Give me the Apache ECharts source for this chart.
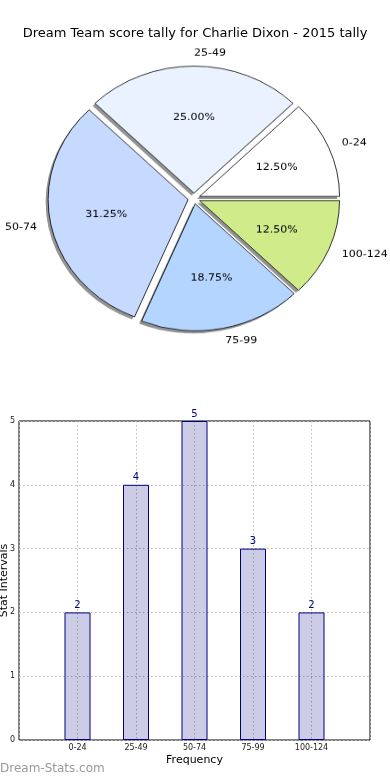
<!DOCTYPE html>
<html>
<head>
<meta charset="utf-8">
<script src="https://cdn.jsdelivr.net/npm/echarts@6/dist/echarts.min.js"></script>
<style>
html,body{margin:0;padding:0;background:#fff;}
#wrap{position:relative;width:390px;height:780px;overflow:hidden;}
#bar{position:absolute;left:0;top:0;width:390px;height:780px;}
#pie{position:absolute;left:0;top:0;width:390px;height:400px;transform:scaleY(0.907);transform-origin:194px 198.5px;}
</style>
</head>
<body>
<div id="wrap"><div id="bar"></div><div id="pie"></div></div>
<script>
const titleText = 'Dream Team score tally for Charlie Dixon - 2015 tally';
const categories = ['0-24', '25-49', '50-74', '75-99', '100-124'];
const counts = [2, 4, 5, 3, 2];
const pieColors = ['#ffffff', '#eaf2ff', '#c6d9ff', '#b3d5ff', '#cfeb8a'];
const yAxisName = 'Stat Intervals';
const xAxisName = 'Frequency';
const watermark = 'Dream-Stats.com';

const total = counts.reduce((a, b) => a + b, 0);
const FONT = 'DejaVu Sans';
const CX = 194, CY = 198.5;

const pieChart = echarts.init(document.getElementById('pie'));
const baseData = () => categories.map((c, i) => ({ name: c, value: counts[i], selected: true }));
const common = {
  type: 'pie', startAngle: 0, clockwise: false,
  selectedMode: 'multiple', selectedOffset: 6,
  avoidLabelOverlap: false,
  emphasis: { disabled: true }
};
pieChart.setOption({
  animation: false,
  textStyle: { fontFamily: FONT },
  series: [
    Object.assign({}, common, {
      center: [CX - 2.5, CY + 2.8], radius: [0, 140], silent: true,
      data: baseData(),
      itemStyle: { color: 'rgba(0,0,0,0.42)', borderWidth: 0 },
      select: { itemStyle: { color: 'rgba(0,0,0,0.42)', borderWidth: 0 } },
      label: { show: false }, labelLine: { show: false }
    }),
    Object.assign({}, common, {
      center: [CX, CY], radius: [0, 140],
      data: categories.map((c, i) => ({ name: c, value: counts[i], selected: true, itemStyle: { color: pieColors[i] } })),
      itemStyle: { borderColor: '#000', borderWidth: 0.8 },
      select: { itemStyle: { borderColor: '#000', borderWidth: 0.8 } },
      label: { position: 'outside', formatter: '{b}', fontSize: 11, color: '#000', fontFamily: FONT, distanceToLabelLine: 0 },
      labelLine: { show: false, length: 14, length2: 0 }
    }),
    Object.assign({}, common, {
      center: [CX, CY], radius: [0, 161], silent: true,
      data: baseData(),
      itemStyle: { color: 'rgba(0,0,0,0)', borderWidth: 0 },
      select: { itemStyle: { borderWidth: 0, color: 'rgba(0,0,0,0)' } },
      label: {
        position: 'inside', fontSize: 11, color: '#000', fontFamily: FONT,
        formatter: p => (p.value / total * 100).toFixed(2) + '%'
      },
      labelLine: { show: false }
    })
  ]
});

const barChart = echarts.init(document.getElementById('bar'));
const dotted = { color: '#b8b8b8', type: [1.5, 2.5], width: 1 };
barChart.setOption({
  animation: false,
  textStyle: { fontFamily: FONT },
  title: {
    text: titleText, left: 'center', top: 22,
    textStyle: { fontSize: 13, fontWeight: 'normal', color: '#000', fontFamily: FONT }
  },
  grid: { left: 19, right: 20, top: 421, bottom: 40, show: true, borderColor: '#000', borderWidth: 1, containLabel: false, outerBoundsMode: 'none' },
  xAxis: {
    type: 'value', min: -1, max: 5, interval: 1,
    axisLine: { show: false }, axisTick: { show: false },
    splitLine: { show: true, lineStyle: dotted },
    axisLabel: { formatter: v => categories[v] || '', fontSize: 8, color: '#222', margin: 4, showMinLabel: true, showMaxLabel: true },
    name: xAxisName, nameLocation: 'middle', nameGap: 15, nameMoveOverlap: false,
    nameTextStyle: { fontSize: 11, color: '#000' }
  },
  yAxis: {
    type: 'value', min: 0, max: 5, interval: 1,
    axisLine: { show: false }, axisTick: { show: false },
    splitLine: { show: true, lineStyle: dotted },
    axisLabel: { fontSize: 8, color: '#222', margin: 4 },
    name: yAxisName, nameLocation: 'middle', nameGap: 9, nameMoveOverlap: false,
    nameTextStyle: { fontSize: 11, color: '#000' }
  },
  series: [{
    type: 'bar', barWidth: 26,
    data: counts.map((v, i) => [i, v]),
    itemStyle: { color: 'rgba(0,0,128,0.2)', borderColor: '#000080', borderWidth: 1 },
    label: { show: true, position: 'top', color: '#000080', fontSize: 10, distance: 2 },
    emphasis: { disabled: true }
  }],
  graphic: [{
    type: 'text', left: 0, top: 763,
    style: { text: watermark, fontSize: 12, fontFamily: FONT, fill: '#999' }
  }]
});
</script>
</body>
</html>
